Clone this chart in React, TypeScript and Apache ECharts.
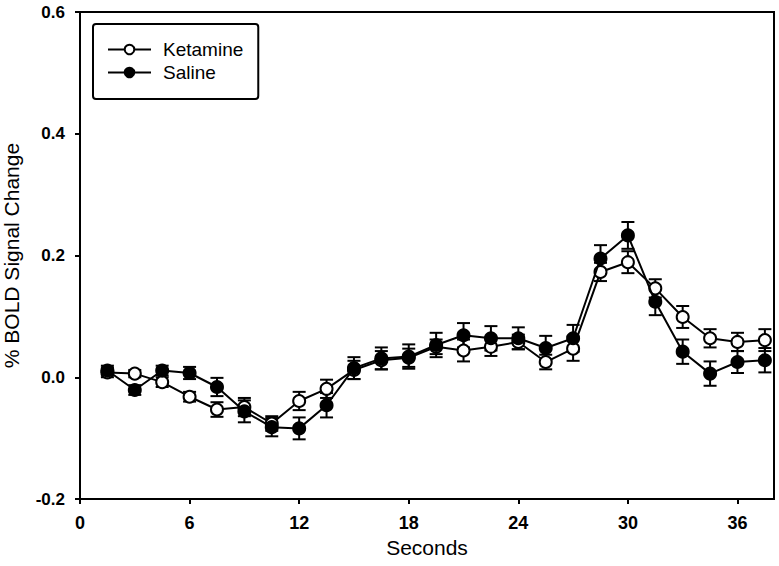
import React, { useEffect, useRef } from "react";
import * as echarts from "echarts";

const seconds = [1.5, 3, 4.5, 6, 7.5, 9, 10.5, 12, 13.5, 15, 16.5, 18, 19.5, 21, 22.5, 24, 25.5, 27, 28.5, 30, 31.5, 33, 34.5, 36, 37.5];
const ketamine = [0.008, 0.006, -0.008, -0.032, -0.053, -0.049, -0.076, -0.039, -0.019, 0.012, 0.028, 0.032, 0.05, 0.044, 0.05, 0.058, 0.025, 0.047, 0.173, 0.189, 0.146, 0.099, 0.064, 0.058, 0.061];
const ketamineErr = [0.008, 0.006, 0.008, 0.008, 0.012, 0.015, 0.012, 0.015, 0.015, 0.015, 0.015, 0.015, 0.012, 0.018, 0.015, 0.012, 0.012, 0.02, 0.015, 0.018, 0.015, 0.018, 0.015, 0.015, 0.018];
const saline = [0.011, -0.021, 0.011, 0.007, -0.016, -0.056, -0.082, -0.084, -0.046, 0.015, 0.031, 0.034, 0.053, 0.069, 0.064, 0.064, 0.048, 0.064, 0.195, 0.233, 0.124, 0.042, 0.006, 0.025, 0.028];
const salineErr = [0.008, 0.008, 0.008, 0.01, 0.015, 0.018, 0.015, 0.018, 0.02, 0.018, 0.018, 0.02, 0.02, 0.02, 0.02, 0.018, 0.02, 0.022, 0.022, 0.022, 0.022, 0.02, 0.02, 0.018, 0.02];
const seriesNames = ["Ketamine", "Saline"];
const xTitle = "Seconds";
const yTitle = "% BOLD Signal Change";

const FONT = "'Liberation Sans', Arial, sans-serif";

function errorSeries(name: string, ys: number[], errs: number[]) {
  return {
    type: "custom",
    name: name + " SEM",
    z: 1,
    silent: true,
    dimensions: ["x", "y", "e"],
    encode: { x: 0, y: 1 },
    data: seconds.map((x, i) => [x, ys[i], errs[i]]),
    renderItem: (params: any, api: any) => {
      const x = api.value(0);
      const y = api.value(1);
      const e = api.value(2);
      const top = api.coord([x, y + e]);
      const bot = api.coord([x, y - e]);
      const hw = 6.5;
      const st = { stroke: "#000", lineWidth: 2 };
      return {
        type: "group",
        children: [
          { type: "line", shape: { x1: top[0], y1: top[1], x2: bot[0], y2: bot[1] }, style: st },
          { type: "line", shape: { x1: top[0] - hw, y1: top[1], x2: top[0] + hw, y2: top[1] }, style: st },
          { type: "line", shape: { x1: bot[0] - hw, y1: bot[1], x2: bot[0] + hw, y2: bot[1] }, style: st },
        ],
      };
    },
  };
}

export default function App() {
  const ref = useRef<HTMLDivElement>(null);
  useEffect(() => {
    document.body.style.margin = "0";
    const chart = echarts.init(ref.current!, undefined, { renderer: "svg" });
    chart.setOption({
      animation: false,
      backgroundColor: "#fff",
      textStyle: { fontFamily: FONT, color: "#000" },
      grid: {
        left: 80, right: 5, top: 12, bottom: 67,
        outerBoundsMode: "none",
        containLabel: false,
        show: true, borderColor: "#000", borderWidth: 2, backgroundColor: "transparent",
      },
      legend: {
        data: seriesNames,
        orient: "vertical",
        left: 93,
        top: 24,
        padding: [15, 15, 16, 14],
        itemGap: 2,
        itemWidth: 43,
        itemHeight: 12,
        borderColor: "#000",
        borderWidth: 2,
        borderRadius: 3,
        textStyle: { fontFamily: FONT, fontSize: 19, color: "#000", padding: [0, 0, 0, 7], lineHeight: 21 },
      },
      xAxis: {
        type: "value",
        min: 0,
        max: 38,
        interval: 6,
        name: xTitle,
        nameLocation: "middle",
        nameGap: 37,
        nameTextStyle: { fontSize: 21, fontFamily: FONT, color: "#000" },
        axisLine: { show: true, onZero: false, lineStyle: { color: "#000", width: 2 } },
        axisTick: { show: true, inside: false, length: 5, lineStyle: { color: "#000", width: 2 } },
        axisLabel: { showMaxLabel: false, margin: 15, fontSize: 18, fontWeight: "bold", color: "#000", fontFamily: FONT },
        splitLine: { show: false },
      },
      yAxis: {
        type: "value",
        min: -0.2,
        max: 0.6,
        interval: 0.2,
        name: yTitle,
        nameLocation: "middle",
        nameGap: 58,
        nameTextStyle: { fontSize: 21, fontFamily: FONT, color: "#000" },
        axisLine: { show: true, onZero: false, lineStyle: { color: "#000", width: 2 } },
        axisTick: { show: true, inside: false, length: 5, lineStyle: { color: "#000", width: 2 } },
        axisLabel: { margin: 15, fontSize: 17, fontWeight: "bold", color: "#000", fontFamily: FONT, formatter: (v: number) => v.toFixed(1) },
        splitLine: { show: false },
      },
      series: [
        errorSeries(seriesNames[0], ketamine, ketamineErr),
        errorSeries(seriesNames[1], saline, salineErr),
        {
          type: "line",
          name: seriesNames[0],
          z: 3,
          data: seconds.map((x, i) => [x, ketamine[i]]),
          symbol: "circle",
          symbolSize: 12,
          lineStyle: { color: "#000", width: 2 },
          itemStyle: { color: "#fff", borderColor: "#000", borderWidth: 2 },
        },
        {
          type: "line",
          name: seriesNames[1],
          z: 4,
          data: seconds.map((x, i) => [x, saline[i]]),
          symbol: "circle",
          symbolSize: 12,
          lineStyle: { color: "#000", width: 2 },
          itemStyle: { color: "#000", borderColor: "#000", borderWidth: 2 },
        },
      ],
    });
    return () => chart.dispose();
  }, []);
  return <div ref={ref} style={{ width: 779, height: 566 }} />;
}
